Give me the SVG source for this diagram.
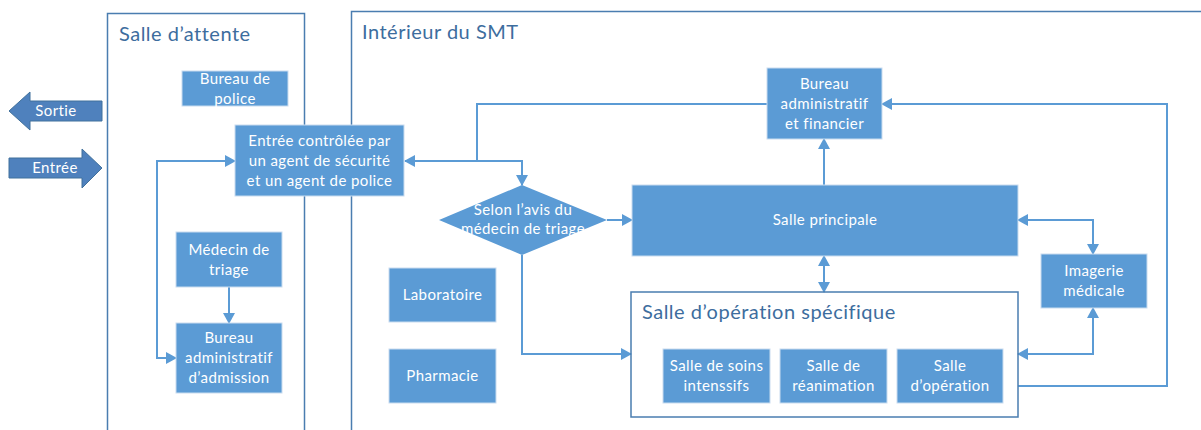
<svg xmlns="http://www.w3.org/2000/svg" width="1201" height="430" viewBox="0 0 1201 430">
<style>
.frame{fill:none;stroke:#4a7db0;stroke-width:1.5}
.title{font-family:Lato,"Liberation Sans",sans-serif;font-size:20px;letter-spacing:0.5px;fill:#3d6d9e}
.box{fill:#5b9bd5;stroke:#c9dcef;stroke-width:1}
.t{font-family:Lato,"Liberation Sans",sans-serif;font-size:15px;letter-spacing:0.4px;fill:#ffffff;text-anchor:middle}
.c{fill:none;stroke:#5b9bd5;stroke-width:2}
.big{fill:#4f81bd;stroke:#41719c;stroke-width:1}
</style>
<defs>
<marker id="ah" markerWidth="12" markerHeight="12" refX="10" refY="6" orient="auto-start-reverse" markerUnits="userSpaceOnUse">
<path d="M0,0 L11,6 L0,12 Z" fill="#5b9bd5"/>
</marker>
</defs>
<rect class="frame" x="107.5" y="13.5" width="197" height="440"/>
<text class="title" x="119" y="41">Salle d’attente</text>
<rect class="frame" x="351.5" y="11.5" width="900" height="440"/>
<text class="title" x="362" y="39">Intérieur du SMT</text>

<g id="sortie">
<path class="big" d="M9,111 L30,92 L30,101 L102,101 L102,121 L30,121 L30,130 Z"/>
<text class="t" x="56" y="116">Sortie</text>
</g>
<g id="entree">
<path class="big" d="M9,158 L82,158 L82,149 L102,168 L82,188 L82,178 L9,178 Z"/>
<text class="t" x="55" y="173">Entrée</text>
</g>

<g id="connectors">
<path class="c" d="M235,161 H157 V358 H176" marker-start="url(#ah)" marker-end="url(#ah)"/>
<path class="c" d="M229,287 V323" marker-end="url(#ah)"/>
<path class="c" d="M767,104 H477 V161 H405" marker-end="url(#ah)"/>
<path class="c" d="M477,161 H522 V185" marker-end="url(#ah)"/>
<path class="c" d="M607,220 H632" marker-end="url(#ah)"/>
<path class="c" d="M522,255 V354 H631" marker-end="url(#ah)"/>
<path class="c" d="M824,185 V139" marker-end="url(#ah)"/>
<path class="c" d="M824,256 V292" marker-start="url(#ah)" marker-end="url(#ah)"/>
<path class="c" d="M1018,220 H1093 V254" marker-start="url(#ah)" marker-end="url(#ah)"/>
<path class="c" d="M1093,308 V354 H1018" marker-start="url(#ah)" marker-end="url(#ah)"/>
<path class="c" d="M1018,386 H1167 V104 H882" marker-end="url(#ah)"/>
</g>

<g id="bureau-police">
<rect class="box" x="182" y="71" width="106" height="35"/>
<text class="t" x="235" y="84">Bureau de</text>
<text class="t" x="235" y="104">police</text>
</g>
<g id="entree-controlee">
<rect class="box" x="235" y="125" width="169" height="71"/>
<text class="t" x="319.5" y="146">Entrée contrôlée par</text>
<text class="t" x="319.5" y="166">un agent de sécurité</text>
<text class="t" x="319.5" y="186">et un agent de police</text>
</g>
<g id="medecin-triage">
<rect class="box" x="176" y="232" width="106" height="55"/>
<text class="t" x="229" y="255">Médecin de</text>
<text class="t" x="229" y="275">triage</text>
</g>
<g id="bureau-admission">
<rect class="box" x="176" y="323" width="106" height="70"/>
<text class="t" x="229" y="343">Bureau</text>
<text class="t" x="229" y="363">administratif</text>
<text class="t" x="229" y="383">d’admission</text>
</g>
<g id="decision">
<path d="M522,185 L607,220 L522,255 L439,220 Z" fill="#5b9bd5"/>
<text class="t" x="523" y="215">Selon l’avis du</text>
<text class="t" x="523" y="234">médecin de triage</text>
</g>
<g id="laboratoire">
<rect class="box" x="389" y="268" width="107" height="54"/>
<text class="t" x="442.5" y="300">Laboratoire</text>
</g>
<g id="pharmacie">
<rect class="box" x="389" y="349" width="107" height="54"/>
<text class="t" x="442.5" y="381">Pharmacie</text>
</g>
<g id="bureau-financier">
<rect class="box" x="767" y="68" width="115" height="71"/>
<text class="t" x="824.5" y="89">Bureau</text>
<text class="t" x="824.5" y="109">administratif</text>
<text class="t" x="824.5" y="129">et financier</text>
</g>
<g id="salle-principale">
<rect class="box" x="632" y="185" width="386" height="71"/>
<text class="t" x="825" y="225">Salle principale</text>
</g>
<g id="salle-operation-specifique">
<rect class="frame" x="631" y="292" width="387" height="125" fill="#ffffff"/>
<text class="title" x="642" y="319">Salle d’opération spécifique</text>
</g>
<g id="soins-intensifs">
<rect class="box" x="663" y="349" width="107" height="54"/>
<text class="t" x="716.5" y="371">Salle de soins</text>
<text class="t" x="716.5" y="391">intenssifs</text>
</g>
<g id="reanimation">
<rect class="box" x="780" y="349" width="107" height="54"/>
<text class="t" x="833.5" y="371">Salle de</text>
<text class="t" x="833.5" y="391">réanimation</text>
</g>
<g id="salle-operation">
<rect class="box" x="897" y="349" width="106" height="54"/>
<text class="t" x="950" y="371">Salle</text>
<text class="t" x="950" y="391">d’opération</text>
</g>
<g id="imagerie">
<rect class="box" x="1041" y="254" width="106" height="54"/>
<text class="t" x="1094" y="276">Imagerie</text>
<text class="t" x="1094" y="296">médicale</text>
</g>
</svg>
